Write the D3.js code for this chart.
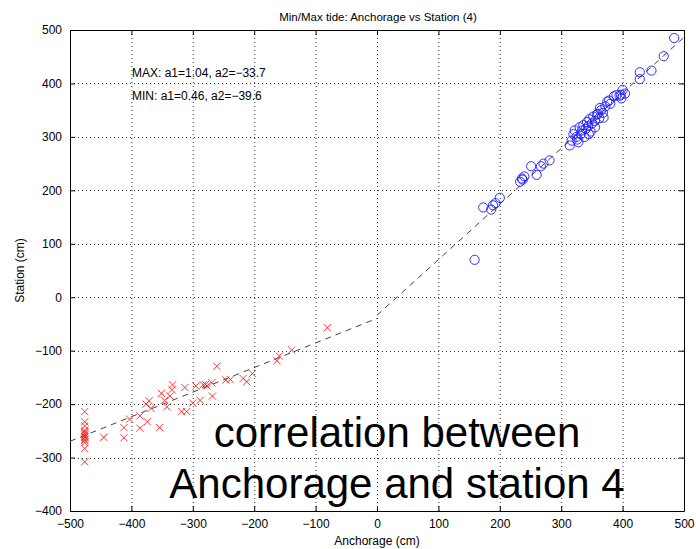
<!DOCTYPE html>
<html>
<head>
<meta charset="utf-8">
<script src="https://cdn.jsdelivr.net/npm/d3@7"></script>
<style>
  html, body { margin: 0; padding: 0; background: #fff; }
  svg { display: block; font-family: "Liberation Sans", Arial, Helvetica, sans-serif; }
</style>
</head>
<body>
<script>
// Tide extremes: Anchorage vs Station 4 (cm)
const maxAnchorage = [159, 173, 186, 189, 193, 200, 233, 237, 240, 236, 251, 260, 267, 271, 281,
  314, 317, 320, 322, 326, 328, 330, 332, 334, 336, 338, 340, 342, 344, 346, 348, 350, 352, 355, 358,
  360, 362, 363, 365, 368, 369, 372, 375, 378, 380, 386, 390, 395, 397, 400, 404, 398, 355, 345, 325,
  428, 428, 447, 467, 484];
const maxStation = [70, 168, 164, 172, 176, 186, 216, 220, 226, 222, 245, 229, 245, 250, 256,
  284, 293, 305, 312, 295, 290, 318, 305, 312, 322, 300, 315, 328, 320, 333, 310, 325, 338, 330, 342,
  343, 335, 354, 350, 345, 336, 357, 366, 368, 362, 376, 378, 377, 379, 388, 381, 372, 318, 305, 300,
  408, 421, 424, 451, 485];

const minAnchorage = [-476, -476, -476, -476, -476, -476, -476, -476, -476, -476, -476, -476, -476, -476,
  -445, -412, -412, -403, -386, -386, -374, -354, -376, -371, -368, -351, -346, -342, -337, -333, -334,
  -318, -313, -310, -300, -295, -288, -283, -277, -269, -279, -268, -261, -246, -239, -218, -212, -203,
  -163, -159, -139, -81];
const minStation = [-214, -233, -241, -249, -255, -258, -261, -266, -272, -283, -308, -252, -262, -268,
  -262, -244, -263, -228, -222, -245, -233, -244, -200, -194, -208, -180, -193, -205, -185, -164, -173,
  -214, -169, -214, -198, -166, -193, -164, -166, -160, -163, -185, -129, -155, -154, -152, -158, -143,
  -119, -110, -99, -57];

// Linear fits: station = a1 * anchorage + a2
const fitMax = [1.04, -33.7];
const fitMin = [0.46, -39.6];

const xTicks = [-500, -400, -300, -200, -100, 0, 100, 200, 300, 400, 500];
const yTicks = [-400, -300, -200, -100, 0, 100, 200, 300, 400, 500];

const W = 696, H = 549;
const margin = { left: 70, right: 12, top: 30, bottom: 38 };

const svg = d3.select("body").append("svg").attr("width", W).attr("height", H);

const x = d3.scaleLinear().domain([-500, 500]).range([margin.left, W - margin.right]);
const y = d3.scaleLinear().domain([-400, 500]).range([H - margin.bottom, margin.top]);

const fmt = d => d < 0 ? "\u2212" + Math.abs(d) : String(d);

// dotted grid
const grid = svg.append("g").attr("stroke", "#333").attr("stroke-width", 1)
  .attr("stroke-dasharray", "1,3");
grid.selectAll("line.gx").data(xTicks.slice(1, -1)).join("line")
  .attr("x1", d => x(d) + 0.5).attr("x2", d => x(d) + 0.5)
  .attr("y1", y(500)).attr("y2", y(-400));
grid.selectAll("line.gy").data(yTicks.slice(1, -1)).join("line")
  .attr("y1", d => Math.round(y(d)) + 0.5).attr("y2", d => Math.round(y(d)) + 0.5)
  .attr("x1", x(-500)).attr("x2", x(500));

// axes with inward ticks on all four sides
const tickLen = 5;
const axB = svg.append("g").attr("transform", `translate(0,${y(-400)})`)
  .call(d3.axisBottom(x).tickValues(xTicks).tickFormat(fmt).tickSizeInner(-tickLen).tickSizeOuter(0).tickPadding(10));
const axT = svg.append("g").attr("transform", `translate(0,${y(500)})`)
  .call(d3.axisTop(x).tickValues(xTicks).tickFormat("").tickSizeInner(-tickLen).tickSizeOuter(0));
const axL = svg.append("g").attr("transform", `translate(${x(-500)},0)`)
  .call(d3.axisLeft(y).tickValues(yTicks).tickFormat(fmt).tickSizeInner(-tickLen).tickSizeOuter(0).tickPadding(8));
const axR = svg.append("g").attr("transform", `translate(${x(500)},0)`)
  .call(d3.axisRight(y).tickValues(yTicks).tickFormat("").tickSizeInner(-tickLen).tickSizeOuter(0));
[axB, axT, axL, axR].forEach(a => {
  a.selectAll("path.domain").attr("stroke", "#000");
  a.selectAll(".tick line").attr("stroke", "#000");
  a.selectAll("text").attr("font-size", 12).attr("fill", "#000")
    .attr("font-family", "'Liberation Sans', Arial, sans-serif");
});
axB.selectAll("text").attr("dy", "0.55em");

// fitted dashed lines
const line = d3.line().x(d => x(d[0])).y(d => y(d[1]));
const fitPts = (f, x0, x1) => [[x0, f[0] * x0 + f[1]], [x1, f[0] * x1 + f[1]]];
svg.append("g").attr("fill", "none").attr("stroke", "#444").attr("stroke-width", 1)
  .attr("stroke-dasharray", "6,5")
  .selectAll("path").data([fitPts(fitMin, -500, 0), fitPts(fitMax, 0, 500)]).join("path")
  .attr("d", line);

// maxima: blue circles
svg.append("g").attr("fill", "none").attr("stroke", "#1a1aff").attr("stroke-width", 0.9)
  .selectAll("circle").data(d3.range(maxAnchorage.length)).join("circle")
  .attr("cx", i => x(maxAnchorage[i])).attr("cy", i => y(maxStation[i])).attr("r", 4.6);

// minima: red crosses
const s = 3.6;
svg.append("g").attr("fill", "none").attr("stroke", "#ff2020").attr("stroke-width", 0.9)
  .selectAll("path").data(d3.range(minAnchorage.length)).join("path")
  .attr("d", i => {
    const cx = x(minAnchorage[i]), cy = y(minStation[i]);
    return `M${cx - s},${cy - s}L${cx + s},${cy + s}M${cx - s},${cy + s}L${cx + s},${cy - s}`;
  });

// titles and labels
svg.append("text").attr("x", 378).attr("y", 21).attr("text-anchor", "middle")
  .attr("font-size", 11.5).text("Min/Max tide: Anchorage vs Station (4)");
svg.append("text").attr("x", x(0)).attr("y", 545).attr("text-anchor", "middle")
  .attr("font-size", 12).text("Anchorage (cm)");
svg.append("text").attr("transform", `translate(24,${y(50)}) rotate(-90)`).attr("text-anchor", "middle")
  .attr("font-size", 12).text("Station (cm)");

svg.append("text").attr("x", 132).attr("y", 77).attr("font-size", 12)
  .text(`MAX: a1=${fitMax[0].toFixed(2)}, a2=\u2212${Math.abs(fitMax[1]).toFixed(1)}`);
svg.append("text").attr("x", 132).attr("y", 100).attr("font-size", 12)
  .text(`MIN: a1=${fitMin[0].toFixed(2)}, a2=\u2212${Math.abs(fitMin[1]).toFixed(1)}`);

// caption
svg.append("text").attr("x", 397).attr("y", 447).attr("text-anchor", "middle")
  .attr("font-size", 42).text("correlation between");
svg.append("text").attr("x", 397).attr("y", 498).attr("text-anchor", "middle")
  .attr("font-size", 42).text("Anchorage and station 4");
</script>
</body>
</html>
